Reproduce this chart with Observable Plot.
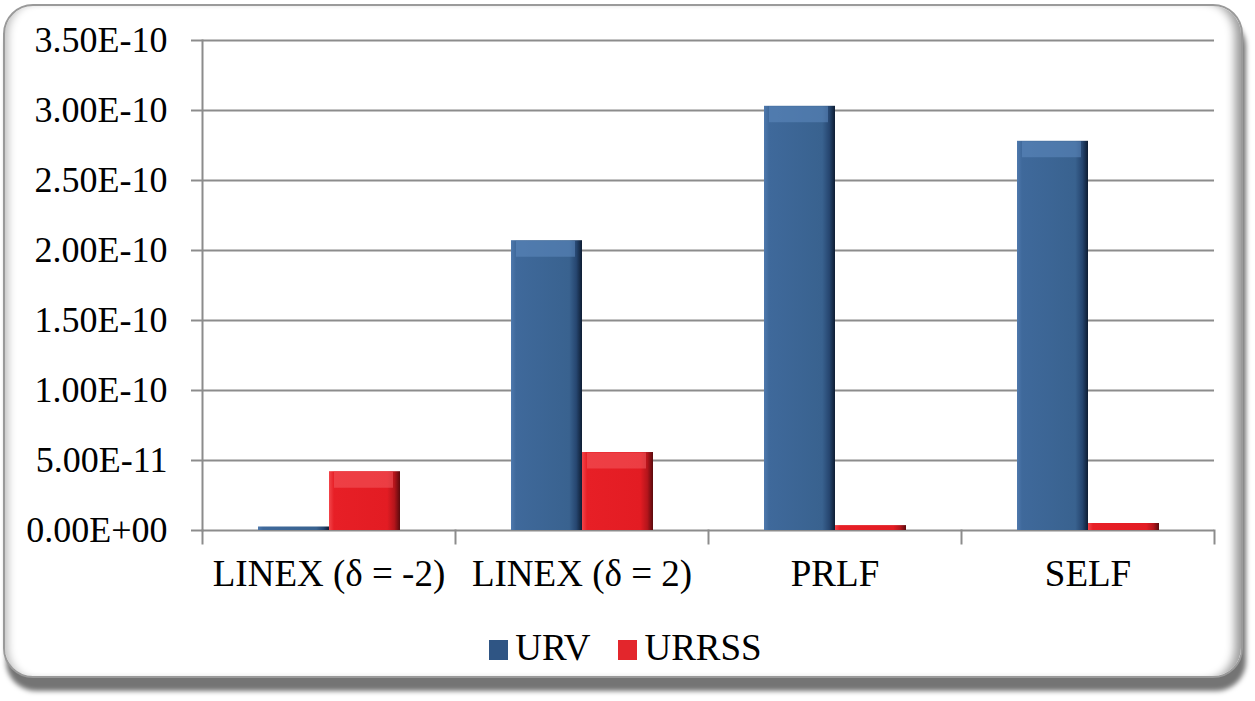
<!DOCTYPE html>
<html><head><meta charset="utf-8">
<script src="https://cdn.jsdelivr.net/npm/d3@7"></script>
<script src="https://cdn.jsdelivr.net/npm/@observablehq/plot@0.6"></script>
<style>
html,body{margin:0;padding:0;background:#fff;}
#wrap{position:relative;width:1255px;height:701px;overflow:hidden;font-family:"Liberation Serif","Times New Roman",serif;}
#frame{position:absolute;left:3px;top:4px;width:1236px;height:670px;border:2px solid #9a9a9a;border-radius:30px;
  box-shadow: inset 9px 0 8px -6px #bdbdbd, inset -12px 0 10px -6px #9a9a9a, 3px 13px 5px #747474;background:#fff;}
#chart{position:absolute;left:0;top:0;}
#legend{position:absolute;left:-2px;top:626px;width:1255px;display:flex;justify-content:center;align-items:center;font-size:37px;color:#000;}
#legend .item{display:flex;align-items:center;margin:0 14px;}
#legend .sw{width:19px;height:20px;margin-right:7px;margin-top:4px;}
</style></head>
<body><div id="wrap"><div id="frame"></div><div id="chart"></div><div id="legend"></div></div>
<script>
const categories = ["LINEX (δ = -2)", "LINEX (δ = 2)", "PRLF", "SELF"];
const series = ["URV", "URRSS"];
const urv = [2.5e-12, 2.07e-10, 3.03e-10, 2.78e-10];
const urrss = [4.2e-11, 5.57e-11, 3.5e-12, 5e-12];
const yTicks = [0, 0.5e-10, 1.0e-10, 1.5e-10, 2.0e-10, 2.5e-10, 3.0e-10, 3.5e-10];
const yTickLabels = ["0.00E+00", "5.00E-11", "1.00E-10", "1.50E-10", "2.00E-10", "2.50E-10", "3.00E-10", "3.50E-10"];
const seriesFill = ["url(#gURV)", "url(#gURRSS)"];
const seriesTop = ["#5f8abf", "#f45a5e"];
const seriesSwatch = ["#2f5584", "#e3262c"];

const values = [urv, urrss];
const data = categories.flatMap((c, i) => series.map((s, j) => ({category: c, series: s, value: values[j][i]})));
const labelOf = new Map(yTicks.map((t, i) => [t, yTickLabels[i]]));
const grid = "#8c8c8c";

const chart = Plot.plot({
  width: 1255, height: 610,
  marginLeft: 201, marginRight: 41, marginTop: 40, marginBottom: 80,
  style: {fontFamily: "'Liberation Serif', 'Times New Roman', serif", fontSize: "36px", color: "#000", background: "transparent", overflow: "visible"},
  fx: {domain: categories, padding: 0, label: null},
  x: {domain: series, paddingInner: 0, paddingOuter: 0.757, axis: null},
  y: {domain: [0, 3.5e-10]},
  color: {domain: series, range: seriesFill},
  marks: [
    Plot.ruleY(yTicks, {stroke: grid, strokeWidth: 2}),
    Plot.frame({anchor: "left", facetAnchor: "left", stroke: grid, strokeWidth: 2}),
    Plot.frame({anchor: "left", insetTop: 490, insetBottom: -13, stroke: grid, strokeWidth: 2}),
    Plot.frame({anchor: "right", facetAnchor: "right", insetTop: 490, insetBottom: -13, stroke: grid, strokeWidth: 2}),
    Plot.barY(data, {fx: "category", x: "series", y: "value", fill: "series"}),
    Plot.tickY(data.filter(d => d.value > 2e-11), {fx: "category", x: "series", y: "value", dy: 8, strokeWidth: 16, insetLeft: 5, insetRight: 7,
      stroke: d => seriesTop[series.indexOf(d.series)], strokeOpacity: 0.55}),
    Plot.axisY(yTicks, {anchor: "left", tickSize: 11, tickPadding: 24, tickFormat: d => labelOf.get(d), stroke: grid, strokeWidth: 2, fontSize: 36, label: null}),
    Plot.axisFx({anchor: "bottom", tickSize: 0, tickPadding: 29, fontSize: 37, label: null})
  ]
});

const defs = d3.select(chart).insert("defs", ":first-child");
function grad(id, stops) {
  const g = defs.append("linearGradient").attr("id", id).attr("x1", 0).attr("x2", 1).attr("y1", 0).attr("y2", 0);
  stops.forEach(([o, c]) => g.append("stop").attr("offset", o).attr("stop-color", c));
}
grad("gURV", [[0, "#4f79ad"], [0.07, "#3f699b"], [0.82, "#39628f"], [0.92, "#264670"], [1, "#0e1d33"]]);
grad("gURRSS", [[0, "#f2454a"], [0.07, "#e71f26"], [0.82, "#e31c23"], [0.92, "#b5151b"], [1, "#5a0a0d"]]);

document.getElementById("chart").appendChild(chart);

const legend = d3.select("#legend");
series.forEach((s, j) => {
  const it = legend.append("div").attr("class", "item");
  it.append("div").attr("class", "sw").style("background", seriesSwatch[j]);
  it.append("span").text(s);
});
</script></body></html>
